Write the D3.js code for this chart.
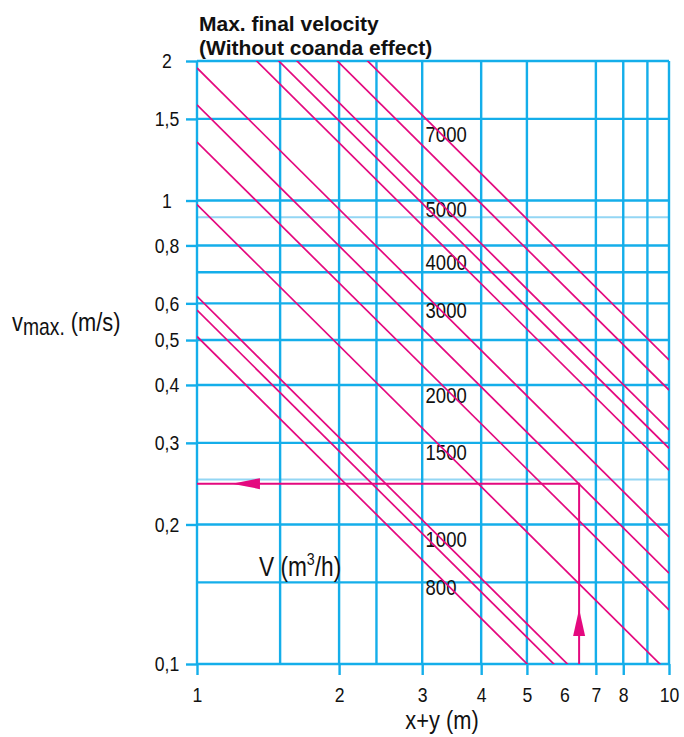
<!DOCTYPE html>
<html>
<head>
<meta charset="utf-8">
<script src="https://cdn.jsdelivr.net/npm/d3@7"></script>
<style>
  html, body { margin: 0; padding: 0; background: #fff; }
  svg { display: block; }
  text { font-family: "Liberation Sans", Arimo, Arial, sans-serif; }
</style>
</head>
<body>
<svg id="chart" width="684" height="737"></svg>
<script>
// ---------- data ----------
const xGrid = [1, 1.5, 2, 2.4, 3, 4, 5, 7, 8, 9, 10];
const xTickMarks = [1, 2, 3, 4, 5, 7, 8, 10];
const xTickLabels = [1, 2, 3, 4, 5, 6, 7, 8, 10];
const yGrid = [0.1, 0.15, 0.2, 0.3, 0.4, 0.5, 0.6, 0.7, 0.8, 1, 1.5, 2];
const yGridLight = [0.25, 0.92];
const yTicks = [0.1, 0.2, 0.3, 0.4, 0.5, 0.6, 0.8, 1, 1.5, 2];

// air volume lines V (m3/h): v_max at x+y = 1 m and at x+y = 10 m
const flowRates = [800, 900, 1000, 1500, 2000, 2500, 3000, 4000, 4500, 5000, 6000, 7000];
const vAtX1  = [0.509, 0.580, 0.621, 0.980, 1.337, 1.608, 1.932, 2.684, 2.994, 3.274, 3.994, 4.637];
const vAtX10 = [0.0497, 0.0567, 0.0606, 0.0956, 0.1308, 0.157, 0.188, 0.262, 0.292, 0.320, 0.390, 0.453];

// labels written next to the lines
const labelledRates = [7000, 5000, 4000, 3000, 2000, 1500, 1000, 800];
const labelV = [1.335, 0.923, 0.708, 0.558, 0.365, 0.2755, 0.179, 0.141];
const labelX = 3.05;

// reading example (arrows)
const exampleX = 6.45;
const exampleV = 0.245;
const upTip = [6.45, 0.1314];
const leftTip = [1.186, 0.245];

// ---------- layout ----------
const svg = d3.select("#chart");
const x = d3.scaleLog().domain([1, 10]).range([197, 669]);
const y = d3.scaleLog().domain([0.1, 2]).range([664, 61]);
const CYAN = "#14aeea", CYAN_LIGHT = "#93d6f4", MAGENTA = "#e4097f", INK = "#111";
const SQ = 0.84; // horizontal condensing of the regular text

// grid
const grid = svg.append("g");
grid.selectAll("line.hl").data(yGridLight).join("line").attr("class", "hl")
  .attr("x1", x(1)).attr("x2", x(10))
  .attr("y1", d => y(d)).attr("y2", d => y(d))
  .attr("stroke", CYAN_LIGHT).attr("stroke-width", 2);
grid.selectAll("line.h").data(yGrid).join("line").attr("class", "h")
  .attr("x1", x(1)).attr("x2", x(10))
  .attr("y1", d => y(d)).attr("y2", d => y(d))
  .attr("stroke", CYAN).attr("stroke-width", 2.4);
grid.selectAll("line.v").data(xGrid).join("line").attr("class", "v")
  .attr("x1", d => x(d)).attr("x2", d => x(d))
  .attr("y1", y(2)).attr("y2", y(0.1))
  .attr("stroke", CYAN).attr("stroke-width", 2.4);

// axes
const yAxis = svg.append("g").attr("transform", `translate(${x(1)},0)`)
  .call(d3.axisLeft(y).tickValues(yTicks).tickSize(11)
    .tickFormat(d => String(d).replace(".", ",")));
yAxis.select(".domain").remove();
yAxis.selectAll(".tick line").attr("stroke", CYAN).attr("stroke-width", 2.4);
yAxis.selectAll(".tick text")
  .attr("x", -30 / SQ).attr("transform", `scale(${SQ},1)`)
  .attr("text-anchor", "middle")
  .attr("font-size", 21).attr("font-family", null).attr("fill", INK);

const xAxis = svg.append("g").attr("transform", `translate(0,${y(0.1)})`)
  .call(d3.axisBottom(x).tickValues(xTickLabels).tickSize(11).tickPadding(12)
    .tickFormat(d3.format("d")));
xAxis.select(".domain").remove();
xAxis.selectAll(".tick line").attr("stroke", CYAN).attr("stroke-width", 2.4)
  .attr("display", d => xTickMarks.includes(d) ? null : "none");
xAxis.selectAll(".tick text").attr("transform", `scale(${SQ},1)`)
  .attr("font-size", 21).attr("font-family", null).attr("fill", INK);
svg.selectAll(".tick text").style("font-family", "'Liberation Sans', Arimo, Arial, sans-serif");

// clip
svg.append("clipPath").attr("id", "plot")
  .append("rect").attr("x", x(1)).attr("y", y(2))
  .attr("width", x(10) - x(1)).attr("height", y(0.1) - y(2));

// labels on lines
svg.append("g").selectAll("text").data(labelledRates).join("text")
  .attr("transform", (d, i) => `translate(${x(labelX)},${y(labelV[i])}) scale(${SQ},1)`)
  .attr("font-size", 22).attr("fill", INK)
  .text(d => d);

// flow lines
svg.append("g").attr("clip-path", "url(#plot)")
  .selectAll("line").data(flowRates).join("line")
  .attr("x1", x(1)).attr("x2", x(10))
  .attr("y1", (d, i) => y(vAtX1[i])).attr("y2", (d, i) => y(vAtX10[i]))
  .attr("stroke", MAGENTA).attr("stroke-width", 1.7);

// example arrows
const ex = svg.append("g");
ex.append("path")
  .attr("d", d3.line()([[x(exampleX), y(0.1)], [x(exampleX), y(exampleV)], [x(1), y(exampleV)]]))
  .attr("fill", "none").attr("stroke", MAGENTA).attr("stroke-width", 2);
const ux = x(upTip[0]), uy = y(upTip[1]);
ex.append("path").attr("d", `M${ux},${uy}L${ux + 6},${uy + 27}L${ux - 6},${uy + 27}Z`).attr("fill", MAGENTA);
const lx = x(leftTip[0]), ly = y(leftTip[1]);
ex.append("path").attr("d", `M${lx},${ly}L${lx + 28},${ly - 5.5}L${lx + 28},${ly + 5.5}Z`).attr("fill", MAGENTA);

// titles
const title = svg.append("g")
  .attr("font-weight", "bold").attr("font-size", 21).attr("fill", INK);
title.append("text").attr("x", 199).attr("y", 31).text("Max. final velocity");
title.append("text").attr("x", 199).attr("y", 55).text("(Without coanda effect)");

const yt = svg.append("text").attr("transform", `translate(12,331) scale(${SQ},1)`)
  .attr("font-size", 26).attr("fill", INK);
yt.append("tspan").text("v");
yt.append("tspan").attr("font-size", 23).attr("dy", 3.5).text("max.");
yt.append("tspan").attr("dy", -3.5).text(" (m/s)");

svg.append("text").attr("transform", `translate(442,729) scale(${SQ},1)`)
  .attr("text-anchor", "middle").attr("font-size", 26).attr("fill", INK).text("x+y (m)");

const vt = svg.append("text").attr("transform", `translate(259,576) scale(${SQ},1)`)
  .attr("font-size", 27).attr("fill", INK);
vt.append("tspan").text("V (m");
vt.append("tspan").attr("font-size", 17).attr("dy", -11).text("3");
vt.append("tspan").attr("dy", 11).text("/h)");
</script>
</body>
</html>
